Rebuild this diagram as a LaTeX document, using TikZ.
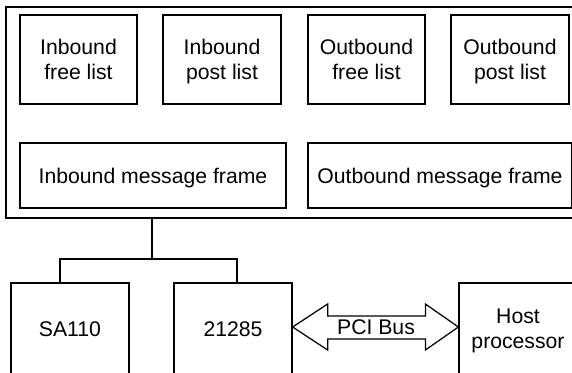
\documentclass[tikz,border=0pt]{standalone}
\usepackage{fontspec}
\setmainfont{Liberation Sans}
\usetikzlibrary{calc}
\begin{document}
\begin{tikzpicture}[x=1pt,y=-1pt,
  line width=1.25pt,
  box/.style={draw, rectangle, inner sep=0pt, align=center, text depth=0pt,
    font=\fontsize{21.2}{25}\selectfont},
  lbl/.style={inner sep=0pt, font=\fontsize{21.2}{25}\selectfont}]
\useasboundingbox (0,0) rectangle (572,372);
\clip (0,0) rectangle (572,372);
% outer frame
\node[draw, rectangle, minimum width=570pt, minimum height=211pt] (frame) at (291,112.5) {};
% inner boxes
\node[box, minimum width=117pt, minimum height=89pt] (ifl) at (78.5,59.5) {Inbound\\free list};
\node[box, minimum width=118pt, minimum height=89pt] (ipl) at (222,59.5) {Inbound\\post list};
\node[box, minimum width=117pt, minimum height=89pt] (ofl) at (366.5,59.5) {Outbound\\free list};
\node[box, minimum width=118pt, minimum height=89pt] (opl) at (510,59.5) {Outbound\\post list};
\node[box, minimum width=266pt, minimum height=65pt] (imf) at (153,175.5) {Inbound message frame};
\node[box, minimum width=264pt, minimum height=65pt] (omf) at (440,175.5) {Outbound message frame};
% lower boxes
\node[box, minimum width=118pt, minimum height=92pt] (sa) at (70,329) {SA110};
\node[box, minimum width=118pt, minimum height=92pt] (c21) at (233,329) {21285};
\node[box, minimum width=118pt, minimum height=92pt] (host) at (518,329) {Host\\processor};
% tree connector
\coordinate (j) at (152,259);
\draw (frame.south -| j) -- (j);
\draw ([xshift=-10pt]sa.north) |- (j) -| ([xshift=4pt]c21.north);
% PCI bus double arrow
\node[lbl] (bus) at (376,327) {PCI Bus};
\coordinate (al) at (c21.east |- bus);
\coordinate (ar) at (host.west |- bus);
\draw[line join=miter] (al) -- ++(35,-23) -- ++(0,12) -- ($(ar)+(-33,-11)$) -- ++(0,-12)
  -- (ar) -- ++(-33,23) -- ++(0,-11) -- ($(al)+(35,12)$) -- ++(0,11) -- cycle;
\end{tikzpicture}
\end{document}
